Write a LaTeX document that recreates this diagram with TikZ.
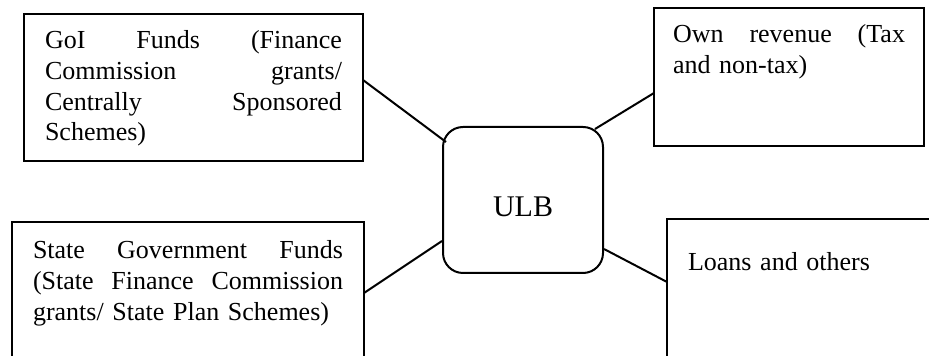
\documentclass[tikz,border=0pt]{standalone}
\usepackage{fontspec}
\setmainfont{Liberation Serif}
\usetikzlibrary{calc}
\begin{document}
\begin{tikzpicture}[
    x=0.5pt, y=-0.5pt,
    srcbox/.style={rectangle, draw, line width=1pt, anchor=north west, outer sep=0pt, inner ysep=0pt, inner xsep=10.5pt, align=left, font=\fontsize{13}{15.3}\selectfont},
    ulbbox/.style={rectangle, draw, line width=1pt, rounded corners=10pt, minimum width=80pt, minimum height=73pt, text height=17pt, text depth=0pt, font=\fontsize{15}{18}\selectfont},
    link/.style={line width=1pt}
]
    \useasboundingbox (0,0) rectangle (929,356);
    \clip (0,0) rectangle (929,356);

    % Urban local body in the middle
    \node [ulbbox] (ulb) at (523,200) {ULB};

    % Sources of funds
    \node [srcbox, text width=148.5pt, text height=17.5pt, text depth=56pt] (goi) at (24,14) {GoI\hfill Funds\hfill (Finance\\Commission\hfill grants/\\Centrally\hfill Sponsored\\Schemes)};
    \node [srcbox, inner xsep=9.5pt, text width=116pt, text height=17.5pt, text depth=51.5pt] (own) at (654,8) {Own\hfill revenue\hfill (Tax\\and non-tax)};
    \node [srcbox, text width=155pt, text height=18.5pt, text depth=70pt] (state) at (12,222) {State\hfill Government\hfill Funds\\(State\hfill Finance\hfill Commission\\grants/ State Plan Schemes)};
    \node [srcbox, text width=130pt, text height=26pt, text depth=60pt] (loans) at (667,219) {Loans and others};

    % Links to the ULB
    \draw [link] ($(goi.north east)+(0,66)$) -- ($(ulb.north west)+(4,16)$);
    \draw [link] ($(own.north west)+(0,85)$) -- ($(ulb.north east)+(-9,3)$);
    \draw [link] ($(state.north east)+(0,71)$) -- ($(ulb.south west)+(0,-33)$);
    \draw [link] ($(loans.north west)+(0,63)$) -- ($(ulb.south east)+(0,-25)$);
\end{tikzpicture}
\end{document}
